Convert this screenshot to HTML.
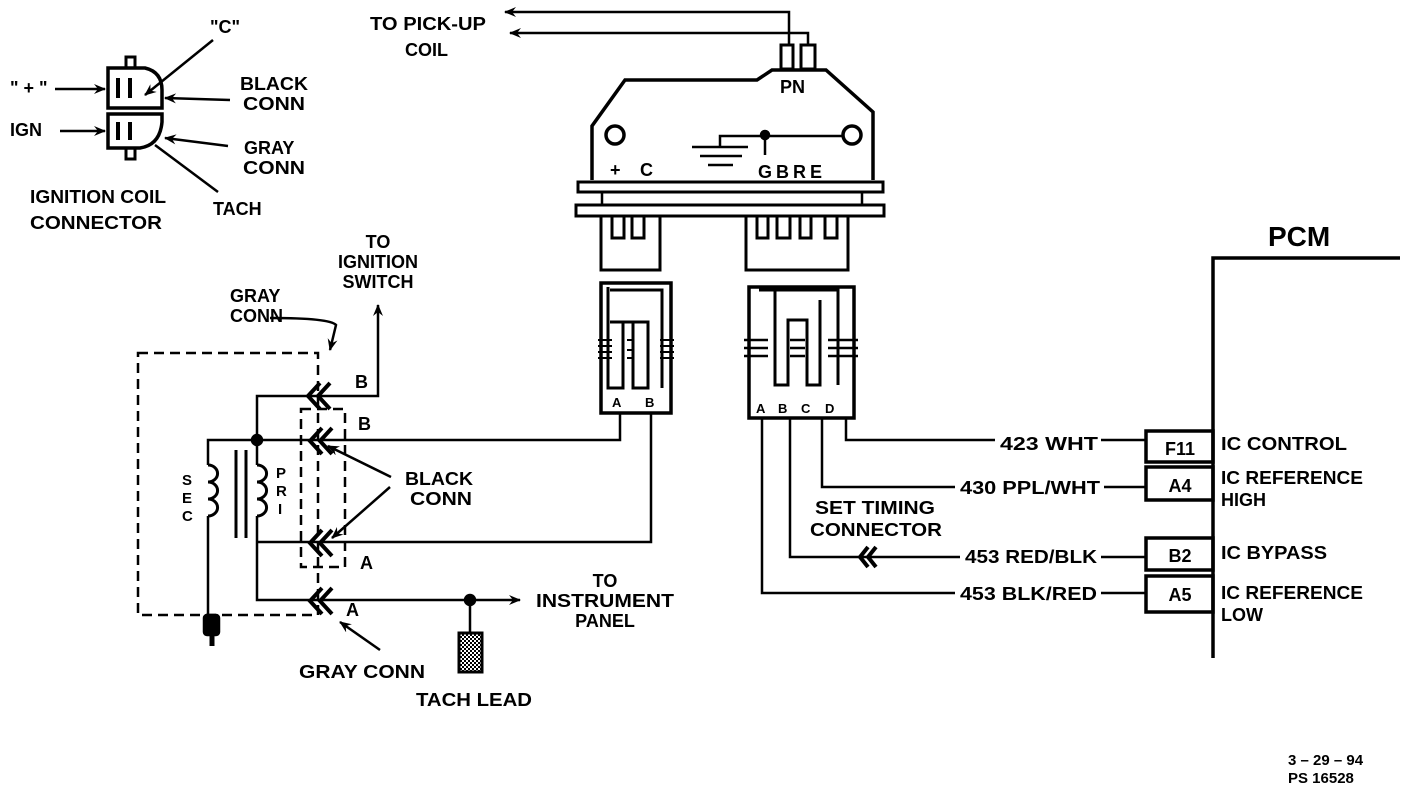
<!DOCTYPE html>
<html><head><meta charset="utf-8"><style>
html,body{margin:0;padding:0;background:#fff;}
svg{display:block;}
text{font-family:"Liberation Sans",sans-serif;font-weight:bold;fill:#000;}
</style></head><body>
<svg width="1408" height="794" viewBox="0 0 1408 794" xmlns="http://www.w3.org/2000/svg">
<defs>
<marker id="ah" markerWidth="12" markerHeight="10" refX="11" refY="5" orient="auto" markerUnits="userSpaceOnUse">
<path d="M0,0 L12,5 L0,10 L4,5 Z" fill="#000"/></marker>
<pattern id="dots" width="4" height="4" patternUnits="userSpaceOnUse"><rect width="4" height="4" fill="#fff"/><rect width="2" height="2" fill="#000"/><rect x="2" y="2" width="2" height="2" fill="#000"/></pattern>
</defs>
<g stroke="#000" fill="none" stroke-width="2.5">
<rect x="126" y="57" width="9" height="11" stroke-width="3"/>
<path d="M108,68 H145 Q162,72 162,90 V108 H108 Z" stroke-width="3.5"/>
<path d="M108,114 H162 V122 Q160,145 140,148 H108 Z" stroke-width="3.5"/>
<rect x="126" y="148" width="9" height="11" stroke-width="3"/>
<path d="M118,78 V98 M130,78 V98 M118,122 V140 M130,122 V140" stroke-width="4"/>
<line x1="55" y1="89" x2="105" y2="89" marker-end="url(#ah)"/>
<line x1="60" y1="131" x2="105" y2="131" marker-end="url(#ah)"/>
<line x1="213" y1="40" x2="145" y2="95" marker-end="url(#ah)"/>
<line x1="230" y1="100" x2="165" y2="98" marker-end="url(#ah)"/>
<line x1="228" y1="146" x2="165" y2="138" marker-end="url(#ah)"/>
<line x1="218" y1="192" x2="155" y2="145"/>
<polyline points="789,45 789,12 505,12" marker-end="url(#ah)"/>
<polyline points="808,45 808,33 510,33" marker-end="url(#ah)"/>
<rect x="781" y="45" width="12" height="24" stroke-width="3"/>
<rect x="801" y="45" width="14" height="24" stroke-width="3"/>
<path d="M592,180 V126 L625,80 H757 L772,70 H826 L873,112 V180" stroke-width="3.5"/>
<circle cx="615" cy="135" r="9" stroke-width="3.5"/>
<circle cx="852" cy="135" r="9" stroke-width="3.5"/>
<path d="M692,147 H748 M700,156 H742 M708,165 H733 M720,147 V136 H843 M765,136 V155"/>
<circle cx="765" cy="135" r="4" fill="#000"/>
<rect x="578" y="182" width="305" height="10" stroke-width="3"/>
<rect x="576" y="205" width="308" height="11" stroke-width="3"/>
<path d="M602,193 V205 M862,193 V205"/>
<path d="M601,216 V270 H660 V216" stroke-width="3"/>
<path d="M612,216 V238 H624 V216 M632,216 V238 H644 V216" stroke-width="3"/>
<path d="M746,216 V270 H848 V216" stroke-width="3"/>
<path d="M757,216 V238 H768 V216 M777,216 V238 H790 V216 M800,216 V238 H811 V216 M825,216 V238 H837 V216" stroke-width="3"/>
<rect x="601" y="283" width="70" height="130" stroke-width="3.5"/>
<path d="M608,287 V388 H623 V322 H633 V388 H648 V322 H610 M610,290 H662 V388" stroke-width="3"/>
<path d="M598,340 H612 M598,346 H612 M598,352 H612 M598,358 H612 M660,340 H674 M660,346 H674 M660,352 H674 M660,358 H674 M627,340 H634 M627,350 H634 M627,358 H634" stroke-width="2"/>
<rect x="749" y="287" width="105" height="131" stroke-width="3.5"/>
<path d="M759,290 H838 V385 M775,290 V385 H788 V320 H807 V385 H820 V300" stroke-width="3"/>
<path d="M744,340 H768 M744,348 H768 M744,356 H768 M828,340 H858 M828,348 H858 M828,356 H858 M790,340 H805 M790,348 H805 M790,356 H805" stroke-width="2.5"/>
<polyline points="762,418 762,593 955,593"/><path d="M1101,593 H1146"/>
<polyline points="790,418 790,557 960,557"/><path d="M1101,557 H1146"/>
<polyline points="822,418 822,487 955,487"/><path d="M1104,487 H1146"/>
<polyline points="846,418 846,440 995,440"/><path d="M1101,440 H1146"/>
<polyline points="1400,258 1213,258 1213,658" stroke-width="3.5"/>
<rect x="1146" y="431" width="67" height="31" stroke-width="3.5"/>
<rect x="1146" y="467" width="67" height="33" stroke-width="3.5"/>
<rect x="1146" y="538" width="67" height="32" stroke-width="3.5"/>
<rect x="1146" y="576" width="67" height="36" stroke-width="3.5"/>
<polyline points="620,413 620,440 310,440"/>
<polyline points="651,413 651,542 310,542"/>
<rect x="138" y="353" width="180" height="262" stroke-dasharray="10,6" stroke-width="2.5"/>
<rect x="301" y="409" width="44" height="158" stroke-dasharray="10,6" stroke-width="2.5"/>
<polyline points="257,440 257,396 378,396 378,305" marker-end="url(#ah)"/>
<polyline points="208,465 208,440 310,440"/>
<circle cx="257" cy="440" r="5" fill="#000"/>
<path d="M208,465 a9,8 0 0 1 0,17 a9,8 0 0 1 0,17 a9,8 0 0 1 0,17" stroke-width="3"/>
<path d="M257,465 a9,8 0 0 1 0,17 a9,8 0 0 1 0,17 a9,8 0 0 1 0,17" stroke-width="3"/>
<path d="M257,440 V465 M208,516 V615 M257,516 V600 H520" marker-end="url(#ah)"/>
<path d="M257,542 H310"/>
<path d="M236,450 V538 M246,450 V538" stroke-width="3"/>
<rect x="204" y="615" width="15" height="20" rx="3" fill="#000"/>
<line x1="212" y1="635" x2="212" y2="646" stroke-width="5"/>
<circle cx="470" cy="600" r="5" fill="#000"/>
<path d="M470,600 V632"/>
<rect x="459" y="633" width="23" height="39" fill="url(#dots)" stroke-width="3"/>
<g stroke-width="4">
<path d="M320,383 L308,396 L320,409 M330,383 L318,396 L330,409"/>
<path d="M322,428 L310,441 L322,454 M332,428 L320,441 L332,454"/>
<path d="M322,530 L310,543 L322,556 M332,530 L320,543 L332,556"/>
<path d="M322,588 L310,601 L322,614 M332,588 L320,601 L332,614"/>
<path d="M868,547 L860,557 L868,567 M876,547 L868,557 L876,567"/>
</g>
<path d="M270,318 Q330,318 336,325 L330,350" marker-end="url(#ah)"/>
<line x1="391" y1="477" x2="328" y2="446" marker-end="url(#ah)"/>
<line x1="390" y1="487" x2="332" y2="538" marker-end="url(#ah)"/>
<line x1="380" y1="650" x2="340" y2="622" marker-end="url(#ah)"/>
</g>
<g font-size="18" lengthAdjust="spacingAndGlyphs">
<text x="210" y="33">"C"</text>
<text x="10" y="94">" + "</text>
<text x="10" y="136">IGN</text>
<text x="240" y="90" textLength="68" lengthAdjust="spacingAndGlyphs">BLACK</text><text x="243" y="110" textLength="62" lengthAdjust="spacingAndGlyphs">CONN</text>
<text x="244" y="154">GRAY</text><text x="243" y="174" textLength="62" lengthAdjust="spacingAndGlyphs">CONN</text>
<text x="213" y="215">TACH</text>
<text x="30" y="203" textLength="136" lengthAdjust="spacingAndGlyphs">IGNITION COIL</text>
<text x="30" y="229" textLength="132" lengthAdjust="spacingAndGlyphs">CONNECTOR</text>
<text x="370" y="30" textLength="116" lengthAdjust="spacingAndGlyphs">TO PICK-UP</text><text x="405" y="56">COIL</text>
<text x="780" y="93">PN</text>
<text x="610" y="176">+</text><text x="640" y="176">C</text>
<text x="758" y="178" letter-spacing="4">GBRE</text>
<text x="378" y="248" text-anchor="middle">TO</text>
<text x="378" y="268" text-anchor="middle">IGNITION</text>
<text x="378" y="288" text-anchor="middle">SWITCH</text>
<text x="230" y="302">GRAY</text><text x="230" y="322">CONN</text>
<text x="355" y="388">B</text><text x="358" y="430">B</text>
<text x="405" y="485" textLength="68" lengthAdjust="spacingAndGlyphs">BLACK</text><text x="410" y="505" textLength="62" lengthAdjust="spacingAndGlyphs">CONN</text>
<text x="360" y="569">A</text><text x="346" y="616">A</text>
<text x="299" y="678" textLength="126" lengthAdjust="spacingAndGlyphs">GRAY CONN</text>
<text x="416" y="706" textLength="116" lengthAdjust="spacingAndGlyphs">TACH LEAD</text>
<text x="605" y="587" text-anchor="middle">TO</text>
<text x="536" y="607" textLength="138" lengthAdjust="spacingAndGlyphs">INSTRUMENT</text>
<text x="605" y="627" text-anchor="middle">PANEL</text>
<text x="815" y="514" textLength="120" lengthAdjust="spacingAndGlyphs">SET TIMING</text><text x="810" y="536" textLength="132" lengthAdjust="spacingAndGlyphs">CONNECTOR</text>
<text x="1000" y="450" textLength="98" lengthAdjust="spacingAndGlyphs">423 WHT</text>
<text x="960" y="494" textLength="140" lengthAdjust="spacingAndGlyphs">430 PPL/WHT</text>
<text x="965" y="563" textLength="132" lengthAdjust="spacingAndGlyphs">453 RED/BLK</text>
<text x="960" y="600" textLength="137" lengthAdjust="spacingAndGlyphs">453 BLK/RED</text>
<text x="1180" y="455" text-anchor="middle">F11</text>
<text x="1180" y="492" text-anchor="middle">A4</text>
<text x="1180" y="562" text-anchor="middle">B2</text>
<text x="1180" y="601" text-anchor="middle">A5</text>
<text x="1221" y="450" textLength="126" lengthAdjust="spacingAndGlyphs">IC CONTROL</text>
<text x="1221" y="484" textLength="142" lengthAdjust="spacingAndGlyphs">IC REFERENCE</text><text x="1221" y="506">HIGH</text>
<text x="1221" y="559" textLength="106" lengthAdjust="spacingAndGlyphs">IC BYPASS</text>
<text x="1221" y="599" textLength="142" lengthAdjust="spacingAndGlyphs">IC REFERENCE</text><text x="1221" y="621">LOW</text>
<text x="1268" y="246" font-size="28">PCM</text>
</g>
<g font-size="13">
<text x="612" y="407">A</text><text x="645" y="407">B</text>
<text x="756" y="413">A</text><text x="778" y="413">B</text><text x="801" y="413">C</text><text x="825" y="413">D</text>
<text x="182" y="485" font-size="15">S</text><text x="182" y="503" font-size="15">E</text><text x="182" y="521" font-size="15">C</text>
<text x="276" y="478" font-size="15">P</text><text x="276" y="496" font-size="15">R</text><text x="278" y="514" font-size="15">I</text>
<text x="1288" y="765" font-size="15">3 – 29 – 94</text>
<text x="1288" y="783" font-size="15">PS 16528</text>
</g>
</svg>
</body></html>
